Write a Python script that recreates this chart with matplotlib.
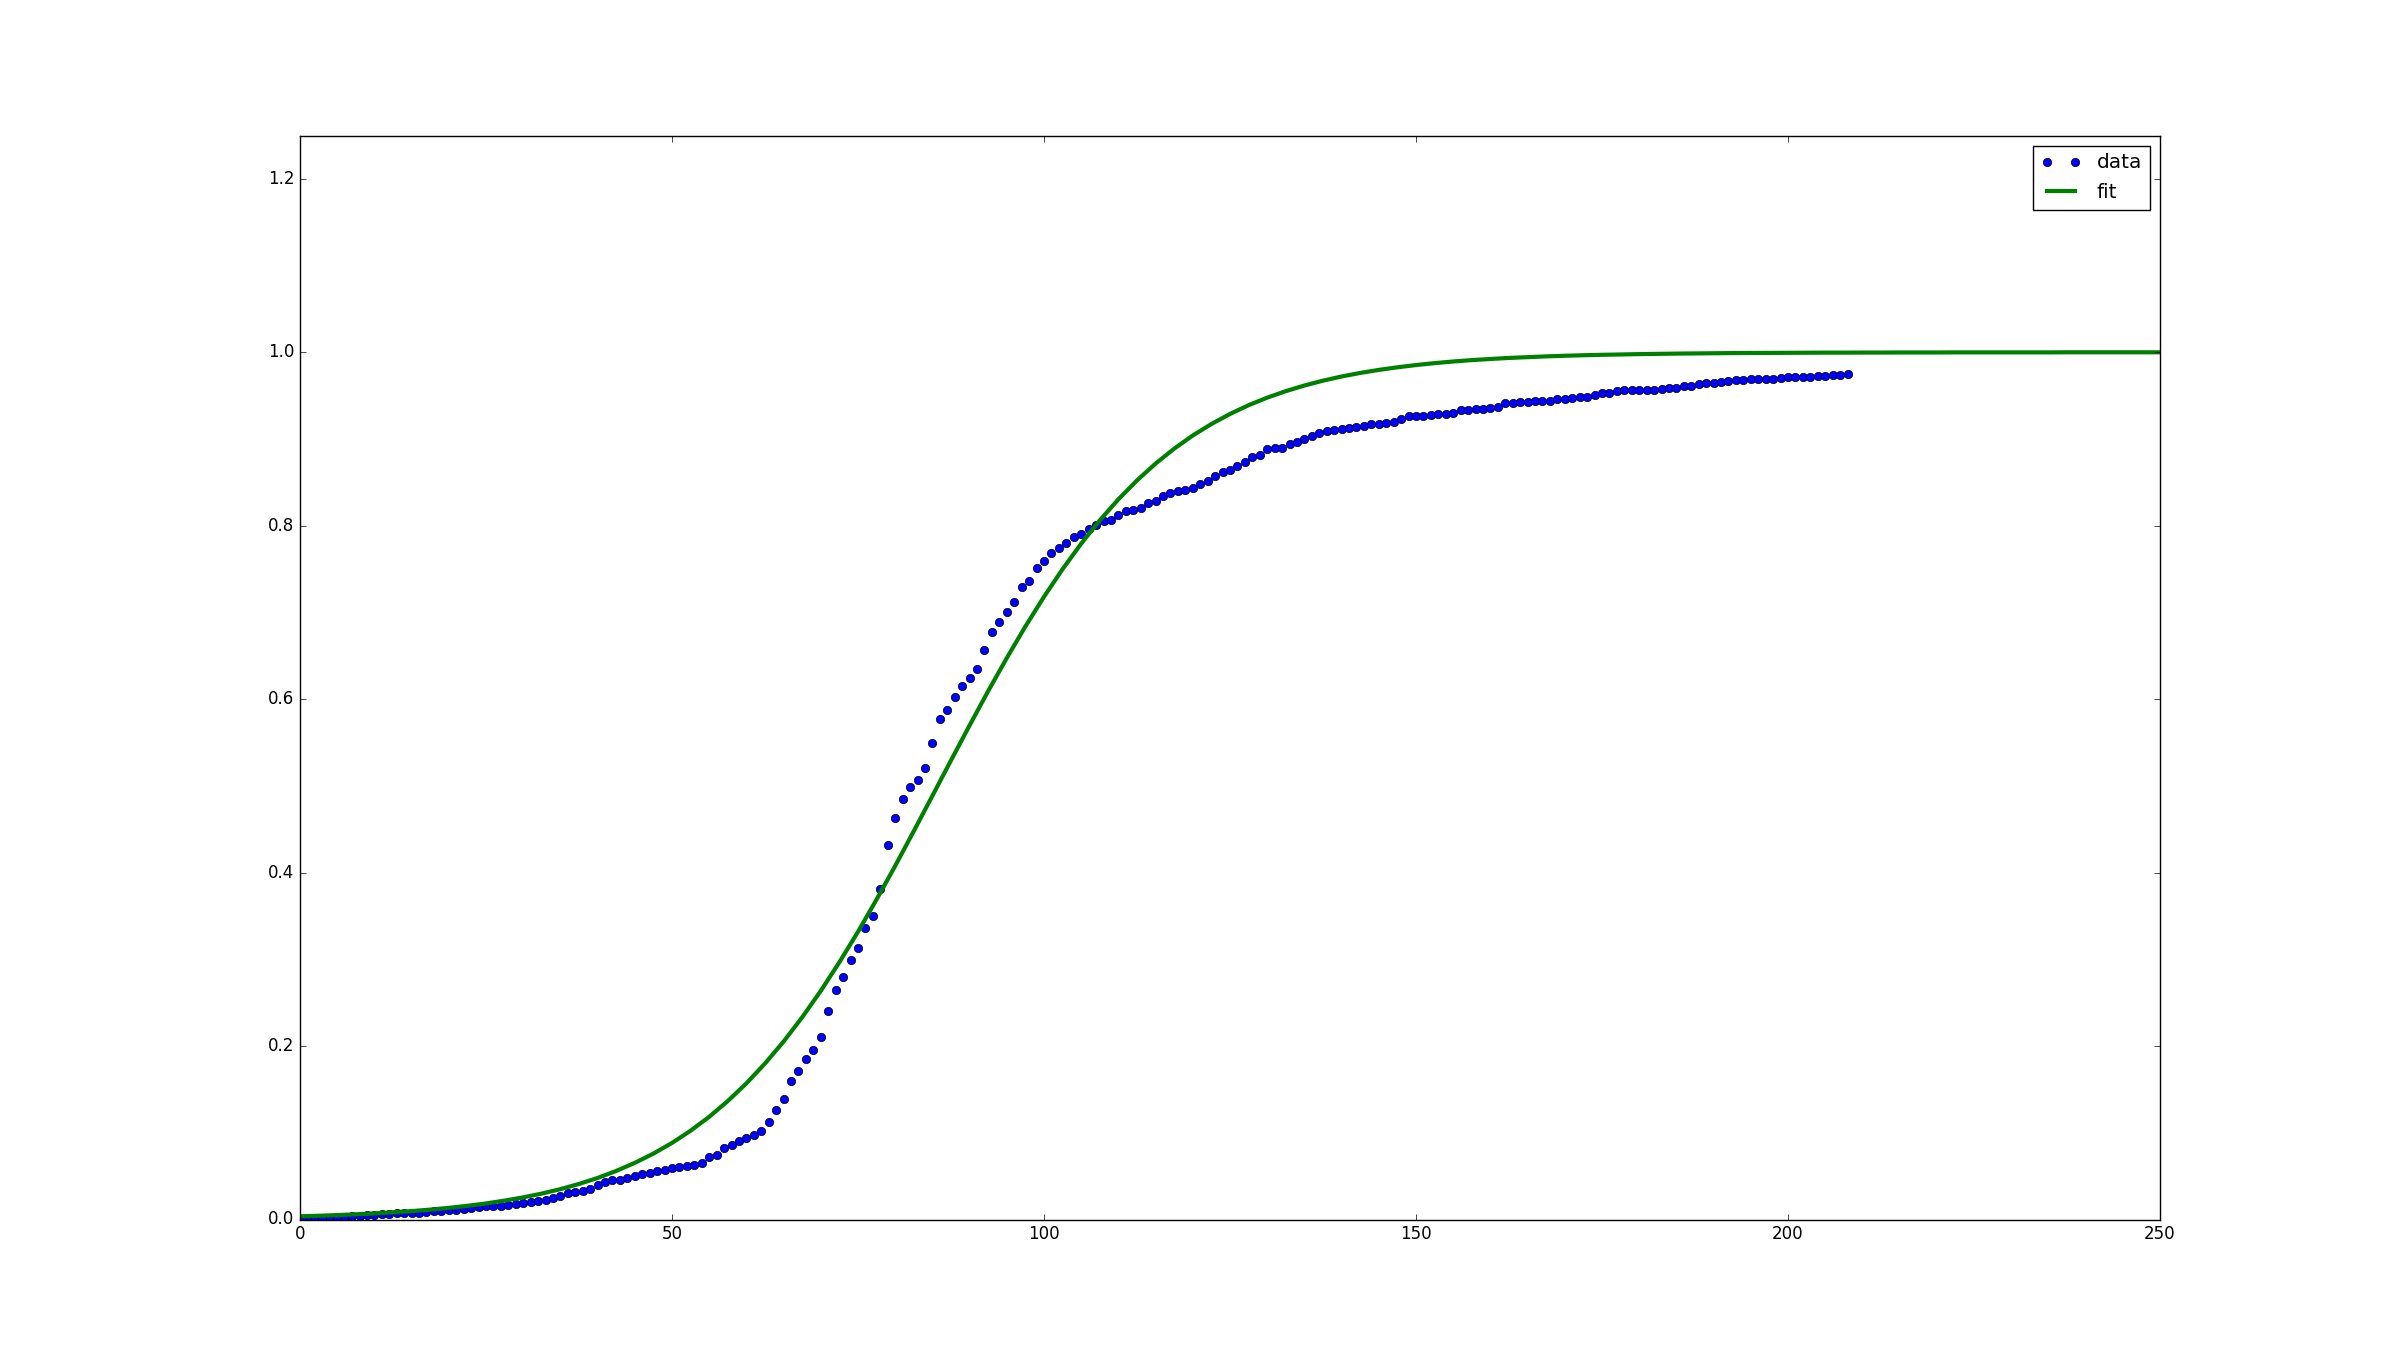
import numpy as np
import matplotlib
matplotlib.use('Agg')
import matplotlib.pyplot as plt

# 数据点（每个整数 x 一个点，x = 0..208）
data_y = [
    0.000, 0.001, 0.001, 0.002, 0.002, 0.003, 0.003, 0.004, 0.004, 0.005,
    0.005, 0.006, 0.006, 0.007, 0.007, 0.008, 0.008, 0.009, 0.010, 0.010,
    0.011, 0.011, 0.012, 0.013, 0.014, 0.015, 0.015, 0.016, 0.017, 0.018,
    0.019, 0.020, 0.021, 0.023, 0.025, 0.027, 0.030, 0.032, 0.033, 0.035,
    0.040, 0.043, 0.045, 0.046, 0.048, 0.050, 0.052, 0.054, 0.056, 0.057,
    0.059, 0.060, 0.062, 0.063, 0.065, 0.072, 0.074, 0.082, 0.086, 0.090,
    0.094, 0.097, 0.102, 0.112, 0.126, 0.139, 0.160, 0.171, 0.185, 0.195,
    0.210, 0.240, 0.265, 0.280, 0.299, 0.313, 0.336, 0.350, 0.381, 0.432,
    0.463, 0.485, 0.499, 0.507, 0.521, 0.549, 0.577, 0.587, 0.603, 0.615,
    0.624, 0.635, 0.657, 0.678, 0.689, 0.701, 0.712, 0.729, 0.736, 0.751,
    0.759, 0.769, 0.774, 0.780, 0.787, 0.790, 0.796, 0.801, 0.805, 0.807,
    0.812, 0.817, 0.818, 0.820, 0.826, 0.829, 0.834, 0.838, 0.840, 0.841,
    0.844, 0.848, 0.852, 0.857, 0.862, 0.864, 0.869, 0.874, 0.879, 0.881,
    0.888, 0.890, 0.890, 0.894, 0.897, 0.900, 0.904, 0.907, 0.909, 0.910,
    0.912, 0.913, 0.914, 0.915, 0.917, 0.917, 0.919, 0.920, 0.923, 0.926,
    0.926, 0.927, 0.928, 0.929, 0.929, 0.930, 0.933, 0.934, 0.935, 0.935,
    0.936, 0.937, 0.941, 0.942, 0.943, 0.943, 0.944, 0.944, 0.944, 0.946,
    0.946, 0.947, 0.948, 0.948, 0.951, 0.953, 0.953, 0.955, 0.956, 0.956,
    0.957, 0.957, 0.957, 0.958, 0.959, 0.959, 0.961, 0.961, 0.963, 0.965,
    0.965, 0.966, 0.967, 0.968, 0.968, 0.969, 0.969, 0.969, 0.969, 0.970,
    0.971, 0.971, 0.972, 0.972, 0.973, 0.973, 0.974, 0.974, 0.975,
]
data_x = np.arange(len(data_y))

# 拟合曲线（x = 0, 2.5, 5, ..., 250 处读取的数值）
fit_y = [
    0.0037, 0.0043, 0.0051, 0.0060, 0.0070, 0.0083, 0.0097, 0.0114, 0.0134, 0.0158,
    0.0185, 0.0218, 0.0255, 0.0299, 0.0350, 0.0410, 0.0479, 0.0560, 0.0653, 0.0760,
    0.0883, 0.1024, 0.1184, 0.1366, 0.1570, 0.1799, 0.2052, 0.2332, 0.2637, 0.2967,
    0.3318, 0.3691, 0.4078, 0.4479, 0.4886, 0.5294, 0.5698, 0.6094, 0.6475, 0.6839,
    0.7181, 0.7500, 0.7794, 0.8062, 0.8305, 0.8523, 0.8717, 0.8889, 0.9041, 0.9173,
    0.9289, 0.9390, 0.9477, 0.9552, 0.9617, 0.9673, 0.9721, 0.9762, 0.9797, 0.9827,
    0.9853, 0.9875, 0.9894, 0.9910, 0.9923, 0.9935, 0.9944, 0.9953, 0.9960, 0.9966,
    0.9971, 0.9975, 0.9979, 0.9982, 0.9985, 0.9987, 0.9989, 0.9991, 0.9992, 0.9993,
    0.9994, 0.9995, 0.9996, 0.9996, 0.9997, 0.9997, 0.9998, 0.9998, 0.9998, 0.9999,
    0.9999, 0.9999, 0.9999, 0.9999, 0.9999, 1.0000, 1.0000, 1.0000, 1.0000, 1.0000,
    1.0000,
]
fit_x = np.arange(len(fit_y)) * 2.5

plt.style.use('classic')
fig = plt.figure(figsize=(24, 13.55), dpi=100, facecolor='white')
ax = fig.add_subplot(111)

ax.plot(data_x, data_y, 'bo', markersize=6, label='data')  # 数据点
ax.plot(fit_x, fit_y, 'g-', linewidth=3, label='fit')  # 拟合曲线

ax.set_xlim(0, 250)
ax.set_ylim(0, 1.25)
ax.legend(loc='upper right', numpoints=2)

fig.savefig('out.png', dpi=100, facecolor='white')
